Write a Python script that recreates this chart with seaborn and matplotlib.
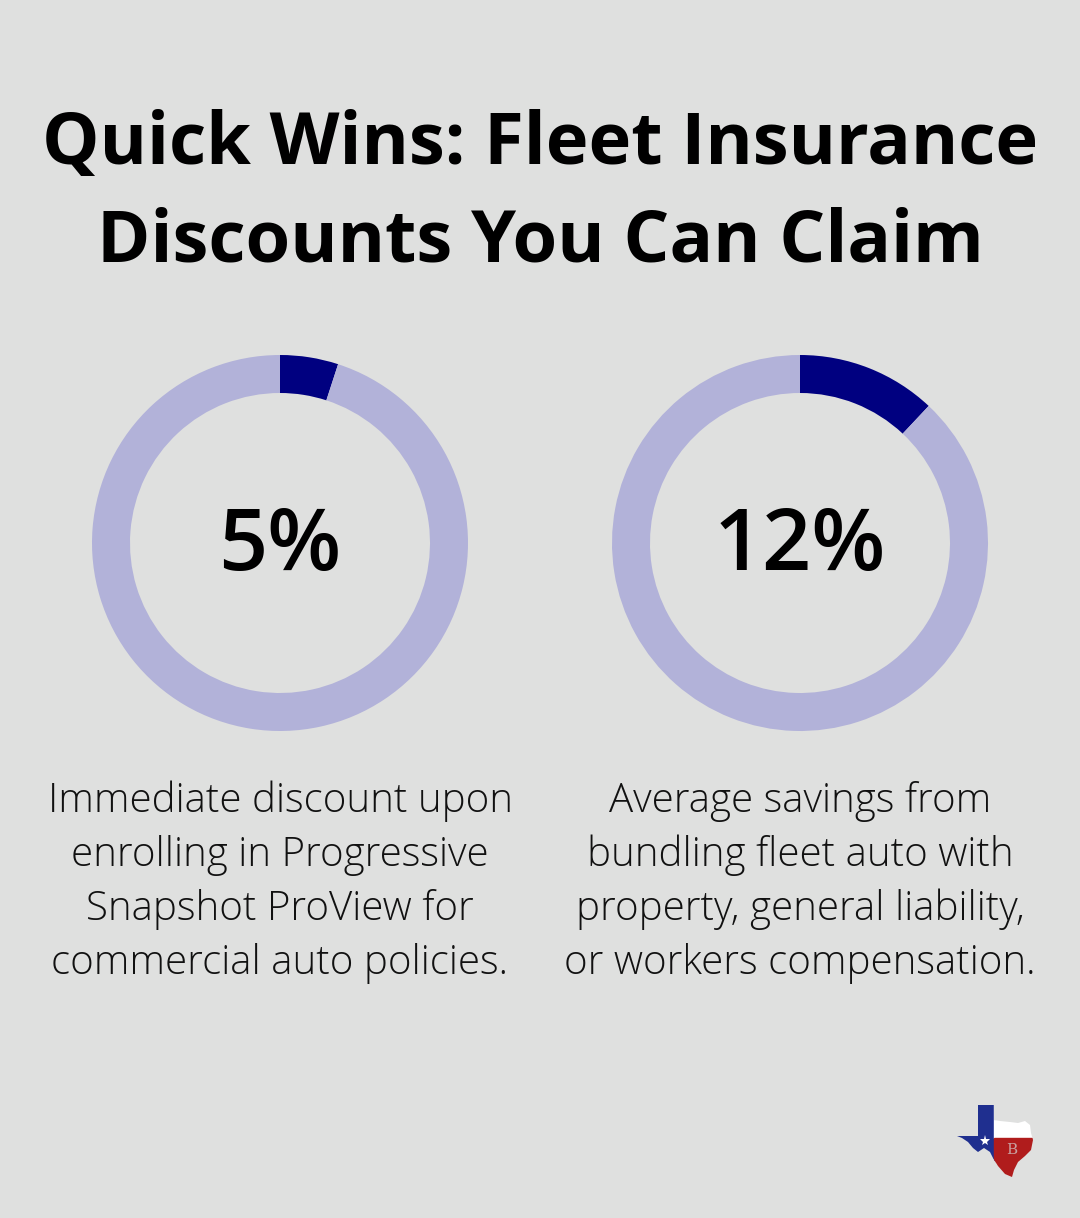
import numpy as np
import matplotlib.pyplot as plt
import seaborn as sns
from matplotlib.patches import Polygon, Rectangle

sns.set_theme(style="white")
plt.rcParams['font.family'] = ['Open Sans', 'DejaVu Sans']

# data
title_lines = ["Quick Wins: Fleet Insurance", "Discounts You Can Claim"]
percents = [5, 12]
labels = ["5%", "12%"]
descriptions = [
    ["Immediate discount upon", "enrolling in Progressive",
     "Snapshot ProView for", "commercial auto policies."],
    ["Average savings from", "bundling fleet auto with",
     "property, general liability,", "or workers compensation."],
]

bg = "#dfe0df"
navy = "#000080"
light = "#b2b2d9"

W, H = 1080, 1218
fig = plt.figure(figsize=(W / 100, H / 100), dpi=100, facecolor=bg)

# overlay axes in pixel coords for text and logo
ov = fig.add_axes([0, 0, 1, 1], zorder=0)
ov.set_xlim(0, W)
ov.set_ylim(H, 0)
ov.axis("off")

ov.text(W / 2, 164, title_lines[0], ha="center", va="baseline",
        fontsize=52, fontweight="bold", color="black")
ov.text(W / 2, 262, title_lines[1], ha="center", va="baseline",
        fontsize=52, fontweight="bold", color="black")

centers = [280, 800]
cy = 543
r_out = 188
for i, (cx, p) in enumerate(zip(centers, percents)):
    ax = fig.add_axes([(cx - r_out) / W, (H - cy - r_out) / H,
                       2 * r_out / W, 2 * r_out / H], zorder=1)
    ax.pie([p, 100 - p], colors=[navy, light], startangle=90,
           counterclock=False, radius=1.0,
           wedgeprops=dict(width=38 / r_out, linewidth=0))
    ax.set_xlim(-1, 1)
    ax.set_ylim(-1, 1)
    ax.set_aspect("equal")
    ax.axis("off")
    ov.text(cx, 570, labels[i], ha="center", va="baseline",
            fontsize=62, fontweight="semibold", color="black")
    for j, line in enumerate(descriptions[i]):
        ov.text(cx, 812 + 54 * j, line, ha="center", va="baseline",
                fontsize=29, fontweight="light", color="#111111")

# small texas logo
outline = [(978, 1105), (994, 1105), (994, 1120), (1000, 1121), (1010, 1122),
           (1018, 1123), (1025, 1121), (1030, 1125), (1031, 1133), (1033, 1140),
           (1031, 1150), (1025, 1156), (1018, 1162), (1014, 1170), (1012, 1177),
           (1005, 1174), (998, 1166), (993, 1158), (990, 1152), (984, 1148),
           (978, 1152), (973, 1148), (968, 1142), (962, 1138), (957, 1136),
           (970, 1136), (978, 1136)]
clip = Polygon(outline, closed=True, transform=ov.transData, facecolor="none",
               edgecolor="none")
ov.add_patch(clip)
for rect in [Rectangle((950, 1100), 44, 85, color="#1f2f8f"),
             Rectangle((994, 1100), 45, 38, color="white"),
             Rectangle((994, 1138), 45, 45, color="#b01c1c")]:
    ov.add_patch(rect)
    rect.set_clip_path(clip)
ov.plot([985], [1141], marker="*", color="white", markersize=8,
        markeredgewidth=0)
ov.text(1012, 1150, "B", ha="center", va="center", fontsize=11,
        color="#c9a0a0", family="DejaVu Serif")

fig.savefig("out.png", dpi=100, facecolor=bg)
